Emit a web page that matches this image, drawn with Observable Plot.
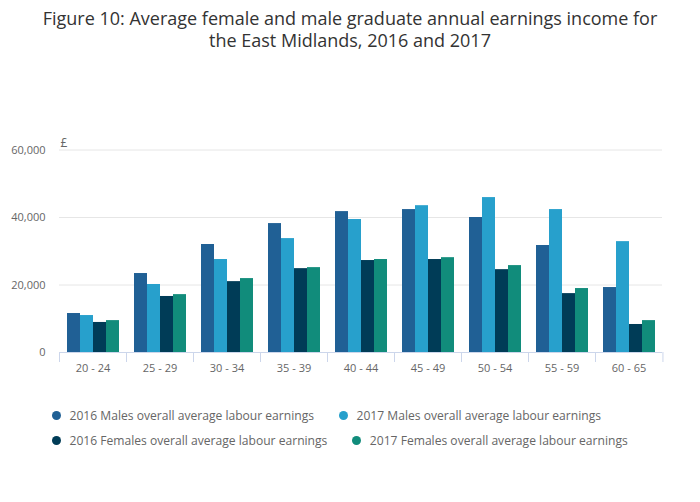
<!DOCTYPE html>
<html>
<head>
<meta charset="utf-8">
<script src="https://cdn.jsdelivr.net/npm/d3@7"></script>
<script src="https://cdn.jsdelivr.net/npm/@observablehq/plot@0.6"></script>
<style>
  html, body { margin: 0; padding: 0; background: #fff; }
  body { width: 700px; height: 502px; font-family: "Open Sans", sans-serif; position: relative; overflow: hidden; }
  #title { height: 60px; box-sizing: border-box; padding-top: 7px; text-align: center; font-size: 18px; line-height: 22px; color: #333; }
  #chart { height: 330px; }
  #legend { box-sizing: border-box; padding-top: 12.5px; padding-left: 51.5px; font-size: 12.1px; color: #666; }
  .row { display: flex; align-items: center; height: 25.5px; white-space: nowrap; }
  .item { display: flex; align-items: center; margin-right: 24.5px; }
  .dot { width: 9px; height: 9px; border-radius: 50%; margin-right: 9px; flex: none; }
</style>
</head>
<body>
<div id="title">Figure 10: Average female and male graduate annual earnings income for<br>the East Midlands, 2016 and 2017</div>
<div id="chart"></div>
<div id="legend"></div>
<script>
const ages = ["20 - 24", "25 - 29", "30 - 34", "35 - 39", "40 - 44", "45 - 49", "50 - 54", "55 - 59", "60 - 65"];
const seriesNames = [
  "2016 Males overall average labour earnings",
  "2017 Males overall average labour earnings",
  "2016 Females overall average labour earnings",
  "2017 Females overall average labour earnings"
];
const seriesColors = ["#206095", "#27a0cc", "#003c57", "#118c7b"];
const males2016   = [11550, 23400, 32000, 38200, 41750, 42350, 40000, 31700, 19250];
const males2017   = [10950, 20150, 27550, 33750, 39400, 43500, 45900, 42350, 32850];
const females2016 = [8900, 16600, 21000, 24850, 27250, 27550, 24550, 17450, 8300];
const females2017 = [9450, 17150, 21900, 25150, 27550, 28100, 25750, 18950, 9450];
const yTicks = [0, 20000, 40000, 60000];
const unitLabel = "£";

const seriesValues = [males2016, males2017, females2016, females2017];
const data = [];
ages.forEach((age, i) => {
  seriesNames.forEach((s, j) => data.push({age, series: s, value: seriesValues[j][i]}));
});

const plot = Plot.plot({
  width: 700,
  height: 330,
  marginLeft: 57,
  marginRight: 36,
  marginTop: 89.5,
  marginBottom: 38,
  style: {fontFamily: "Open Sans, sans-serif", color: "#666", background: "transparent"},
  fx: {domain: ages, padding: 0, label: null},
  x: {domain: seriesNames, paddingInner: 0, paddingOuter: 0.5, axis: null},
  y: {domain: [0, 60000], label: null},
  color: {domain: seriesNames, range: seriesColors},
  marks: [
    Plot.gridY({ticks: yTicks.slice(1), stroke: "#e6e6e6", strokeOpacity: 1}),
    Plot.barY(data, {fx: "age", x: "series", y: "value", fill: "series"}),
    Plot.ruleY([0], {stroke: "#ccd6eb", strokeOpacity: 1}),
    Plot.axisY({ticks: yTicks, tickSize: 0, tickPadding: 14, tickFormat: d3.format(","), label: null, fontSize: 11}),
    Plot.axisFx({anchor: "bottom", tickSize: 0, tickPadding: 12, label: null, fontSize: 11}),
    Plot.text([{age: ages[0], t: unitLabel}], {fx: "age", text: "t", frameAnchor: "top-left", textAnchor: "start", lineAnchor: "bottom", dx: 1, dy: -3, fontSize: 12, fill: "#666"})
  ]
});

// boundary ticks below the category axis, positioned through the fx scale
const fx = plot.scale("fx");
const yS = plot.scale("y");
const y0 = yS.apply(0);
const step = (fx.range[1] - fx.range[0]) / ages.length;
const svg = d3.select(plot);
const bounds = ages.map(a => fx.apply(a)).concat([fx.apply(ages[ages.length - 1]) + step]);
svg.append("g").selectAll("line").data(bounds).join("line")
  .attr("x1", d => d + 0.5).attr("x2", d => d + 0.5)
  .attr("y1", y0).attr("y2", y0 + 10)
  .attr("stroke", "#ccd6eb").attr("stroke-width", 1);

document.getElementById("chart").appendChild(plot);

// legend
const legend = d3.select("#legend");
const rows = [[0, 1], [2, 3]];
rows.forEach(r => {
  const row = legend.append("div").attr("class", "row");
  r.forEach(j => {
    const it = row.append("div").attr("class", "item");
    it.append("span").attr("class", "dot").style("background", seriesColors[j]);
    it.append("span").text(seriesNames[j]);
  });
});
</script>
</body>
</html>
